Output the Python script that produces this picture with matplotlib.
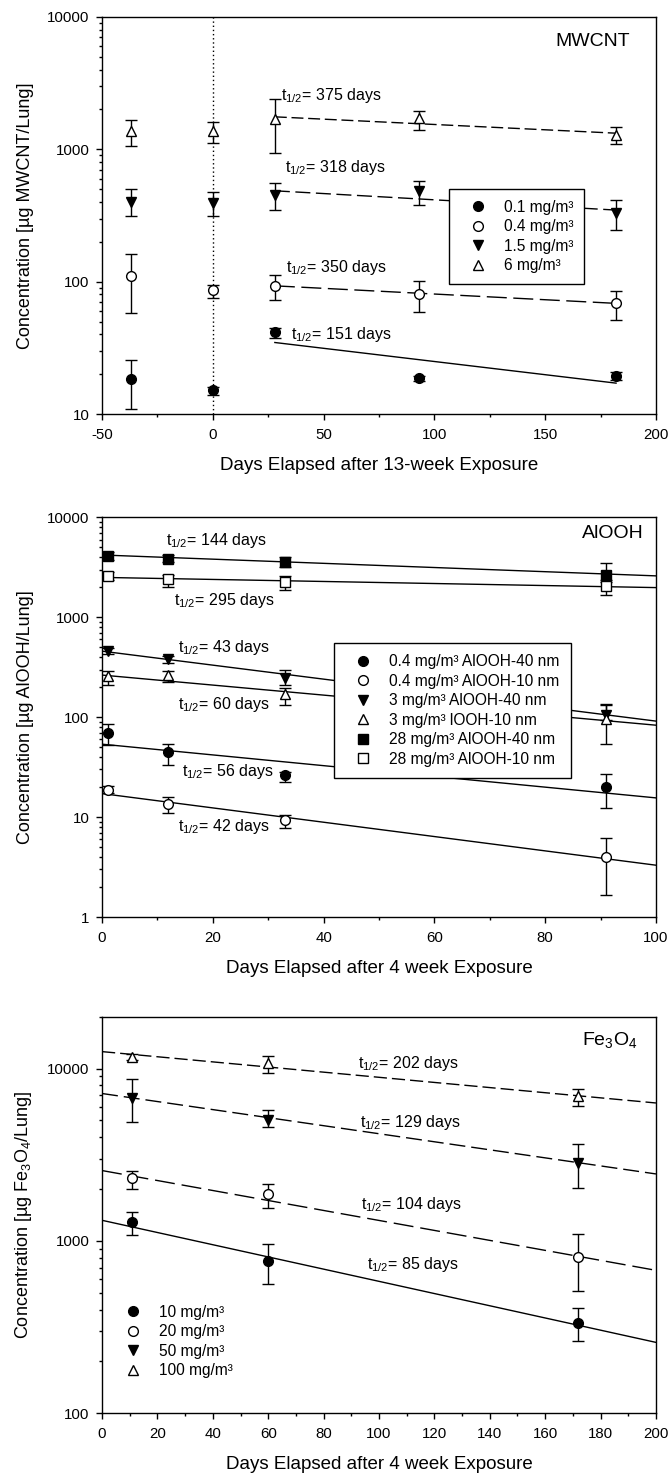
import matplotlib.pyplot as plt
import matplotlib.ticker as ticker
import numpy as np

plt.rcParams['font.family'] = ['Liberation Sans', 'DejaVu Sans']
plt.rcParams['mathtext.fontset'] = 'custom'
plt.rcParams['mathtext.rm'] = 'Liberation Sans'
plt.rcParams['mathtext.it'] = 'Liberation Sans:italic'
plt.rcParams['mathtext.bf'] = 'Liberation Sans:bold'
plt.rcParams['axes.unicode_minus'] = False

# ---- MWCNT, 13-week exposure ----
mw_days = [-37, 0, 28, 93, 182]
mw_labels = ['0.1 mg/m³', '0.4 mg/m³', '1.5 mg/m³', '6 mg/m³']
mw_mean = [[18.4, 15.2, 41.5, 18.6, 19.4],
           [111, 86, 93, 80.9, 69.2],
           [403, 392, 453, 481, 329],
           [1380, 1380, 1703, 1720, 1288]]
mw_low = [[10.9, 13.9, 37.8, 17.9, 18.1],
          [57.7, 75.9, 72.8, 58.7, 51.2],
          [316, 315, 349, 381, 244],
          [1064, 1114, 937, 1406, 1097]]
mw_high = [[25.6, 16.1, 44.5, 19.4, 20.6],
           [162, 94.6, 112, 101, 85.7],
           [503, 472, 558, 578, 416],
           [1655, 1614, 2398, 1958, 1466]]
mw_fit_days = [28, 182]
mw_fit_start = [34.7, 93, 486, 1760]
mw_half_life = [151, 350, 318, 375]
mw_note_x = [35.5, 33.1, 32.6, 30.6]
mw_note_y = [37.2, 117.4, 678, 2355]

# ---- AlOOH, 4 week exposure ----
al_days = [1, 12, 33, 91]
al_labels = ['0.4 mg/m³ AlOOH-40 nm', '0.4 mg/m³ AlOOH-10 nm', '3 mg/m³ AlOOH-40 nm',
             '3 mg/m³ lOOH-10 nm', '28 mg/m³ AlOOH-40 nm', '28 mg/m³ AlOOH-10 nm']
al_mean = [[69.7, 45, 26.3, 20],
           [18.8, 13.6, 9.3, 3.99],
           [462, 378, 249, 106],
           [258, 264, 169, 97],
           [4130, 3855, 3600, 2668],
           [2583, 2393, 2270, 2053]]
al_low = [[52.5, 33, 22.7, 12.2],
          [17.5, 11.0, 7.8, 1.65],
          [430, 345, 209, 93.3],
          [212, 226, 132, 53.7],
          [3740, 3540, 3157, 2356],
          [2356, 2024, 1871, 1680]]
al_high = [[85.1, 54.5, 28.6, 27.3],
           [20.4, 15.9, 10.4, 6.18],
           [495, 409, 300, 132],
           [289, 289, 194, 135],
           [4530, 4200, 4040, 3514],
           [2855, 2645, 2583, 2249]]
al_fit_days = [0, 100]
al_fit_start = [53.7, 17.2, 458, 264, 4200, 2506]
al_half_life = [56, 42, 43, 60, 144, 295]
al_note_x = [14.4, 13.7, 13.7, 13.7, 11.6, 13.0]
al_note_y = [25.7, 7.22, 449, 121, 5265, 1318]

# ---- Fe3O4, 4 week exposure ----
fe_days = [11, 60, 172]
fe_labels = ['10 mg/m³', '20 mg/m³', '50 mg/m³', '100 mg/m³']
fe_mean = [[1288, 766, 336],
           [2312, 1862, 809],
           [6740, 5050, 2840],
           [11730, 10740, 6950]]
fe_low = [[1079, 562, 261],
          [2008, 1560, 512],
          [4920, 4560, 2024],
          [11220, 9480, 6085]]
fe_high = [[1472, 965, 406],
           [2560, 2128, 1094],
           [8670, 5740, 3655],
           [12210, 11840, 7600]]
fe_fit_days = [0, 200]
fe_fit_start = [1317, 2560, 7165, 12540]
fe_half_life = [85, 104, 129, 202]
fe_note_x = [95.8, 93.5, 93.1, 92.5]
fe_note_y = [686, 1538, 4600, 10130]

markers4 = ['o', 'o', 'v', '^']
faces4 = ['k', 'w', 'k', 'w']
markers6 = ['o', 'o', 'v', '^', 's', 's']
faces6 = ['k', 'w', 'k', 'w', 'k', 'w']
sizes6 = [7, 7, 7.5, 7.5, 6.5, 6.5]


def draw_series(ax, days, mean, low, high, markers, faces, labels, sizes=None):
    for i in range(len(mean)):
        m = np.array(mean[i])
        err = [m - np.array(low[i]), np.array(high[i]) - m]
        ax.errorbar(days, m, yerr=err, fmt='none', ecolor='k', elinewidth=1,
                    capsize=4.5, capthick=1, zorder=2)
        ms = sizes[i] if sizes else (7.5 if markers[i] in 'v^' else 7)
        ax.plot(days, m, marker=markers[i], ls='none', ms=ms, mfc=faces[i],
                mec='k', mew=1, label=labels[i], zorder=3)


def draw_fits(ax, fit_days, fit_start, half_life, styles):
    t = np.linspace(fit_days[0], fit_days[1], 100)
    for c0, th, ls in zip(fit_start, half_life, styles):
        ax.plot(t, c0 * 2 ** (-(t - fit_days[0]) / th), color='k', lw=1, ls=ls, zorder=1)


def draw_notes(ax, xs, ys, half_life):
    for x, y, th in zip(xs, ys, half_life):
        ax.text(x, y, r'$\mathregular{t_{1/2}}$= %d days' % th, fontsize=11.5,
                ha='left', va='baseline')


def style_axes(ax, xlim, ylim, xmajor, xminor, ylabels, xlabel, ylabel):
    ax.set_yscale('log')
    ax.set_xlim(xlim)
    ax.set_ylim(ylim)
    ax.xaxis.set_major_locator(ticker.MultipleLocator(xmajor))
    ax.xaxis.set_minor_locator(ticker.MultipleLocator(xminor))
    ax.set_yticks(ylabels)
    ax.set_yticklabels([str(v) for v in ylabels])
    ax.yaxis.set_minor_locator(ticker.LogLocator(base=10, subs=np.arange(2, 10)))
    ax.yaxis.set_minor_formatter(ticker.NullFormatter())
    ax.tick_params(which='major', direction='out', length=4, width=1, labelsize=10.8)
    ax.tick_params(which='minor', direction='out', length=2.5, width=1)
    ax.tick_params(axis='x', pad=6)
    ax.tick_params(axis='y', pad=5)
    for s in ax.spines.values():
        s.set_linewidth(1)
    ax.set_xlabel(xlabel, fontsize=13.5)
    ax.xaxis.set_label_coords(0.5, -0.108)
    ax.set_ylabel(ylabel, fontsize=13)
    ax.yaxis.set_label_coords(-0.123, 0.5)


def boxed_legend(ax, anchor, frame=True):
    leg = ax.legend(loc='upper left', bbox_to_anchor=anchor, borderaxespad=0,
                    fontsize=11.2, frameon=frame, fancybox=False, framealpha=1,
                    edgecolor='k', borderpad=0.7, handlelength=2.35,
                    handletextpad=0.5, labelspacing=0.29, numpoints=1)
    leg.get_frame().set_linewidth(1)
    return leg


fig = plt.figure(figsize=(6.69, 14.76), dpi=100)
ax1 = fig.add_axes([0.1525, 0.7195, 0.828, 0.269])
ax2 = fig.add_axes([0.1525, 0.3787, 0.828, 0.2708])
ax3 = fig.add_axes([0.1525, 0.0425, 0.828, 0.2687])

# panel 1
ax1.axvline(0, color='k', ls=(0, (1, 2)), lw=1, zorder=1)
draw_series(ax1, mw_days, mw_mean, mw_low, mw_high, markers4, faces4, mw_labels)
draw_fits(ax1, mw_fit_days, mw_fit_start, mw_half_life,
          ['-', (0, (14.4, 4.7)), (0, (10.8, 4)), (0, (8.6, 3.4))])
draw_notes(ax1, mw_note_x, mw_note_y, mw_half_life)
style_axes(ax1, (-50, 200), (10, 10000), 50, 25, [10, 100, 1000, 10000],
           'Days Elapsed after 13-week Exposure', 'Concentration [µg MWCNT/Lung]')
ax1.text(0.954, 0.938, 'MWCNT', transform=ax1.transAxes, ha='right', va='center', fontsize=14)
boxed_legend(ax1, (0.626, 0.567))

# panel 2
draw_series(ax2, al_days, al_mean, al_low, al_high, markers6, faces6, al_labels, sizes6)
draw_fits(ax2, al_fit_days, al_fit_start, al_half_life, ['-'] * 6)
draw_notes(ax2, al_note_x, al_note_y, al_half_life)
style_axes(ax2, (0, 100), (1, 10000), 20, 10, [1, 10, 100, 1000, 10000],
           'Days Elapsed after 4 week Exposure', 'Concentration [µg AlOOH/Lung]')
ax2.text(0.977, 0.959, 'AlOOH', transform=ax2.transAxes, ha='right', va='center', fontsize=14)
boxed_legend(ax2, (0.419, 0.685))

# panel 3
draw_series(ax3, fe_days, fe_mean, fe_low, fe_high, markers4, faces4, fe_labels)
draw_fits(ax3, fe_fit_days, fe_fit_start, fe_half_life,
          ['-', (0, (14.4, 5)), (0, (11.5, 4.3)), (0, (9.5, 3.6))])
draw_notes(ax3, fe_note_x, fe_note_y, fe_half_life)
style_axes(ax3, (0, 200), (100, 20000), 20, 10, [100, 1000, 10000],
           'Days Elapsed after 4 week Exposure',
           r'Concentration [µg Fe$\mathregular{_3}$O$\mathregular{_4}$/Lung]')
ax3.text(0.967, 0.942, r'Fe$\mathregular{_3}$O$\mathregular{_4}$', transform=ax3.transAxes,
         ha='right', va='center', fontsize=14)
boxed_legend(ax3, (0.003, 0.301), frame=False)

fig.savefig('out.png', dpi=100)
plt.close(fig)
